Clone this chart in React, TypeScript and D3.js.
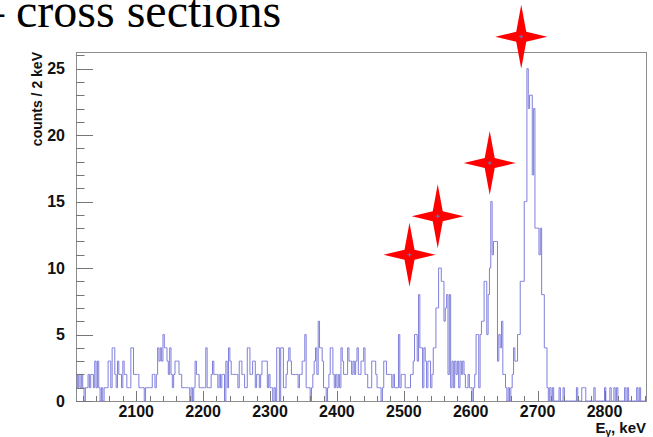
import React from 'react';
import * as d3 from 'd3';

// histogram: 2 keV bins starting at X_MIN
const X_MIN = 2010;
const X_MAX = 2862;
const BIN_WIDTH = 2;
const Y_MAX = 26.25;

// 2010 - 2258 keV
const countsLow = [
  2, 1, 2, 1, 2, 1, 0, 1, 1, 2,
  1, 2, 2, 1, 3, 1, 3, 1, 0, 1,
  0, 1, 1, 1, 3, 3, 1, 4, 4, 2,
  1, 3, 2, 2, 1, 3, 2, 2, 1, 1,
  1, 4, 4, 2, 2, 2, 2, 1, 1, 1,
  1, 0, 1, 1, 1, 1, 1, 2, 2, 1,
  2, 4, 3, 4, 3, 5, 4, 4, 3, 2,
  4, 2, 1, 2, 3, 3, 3, 2, 2, 1,
  1, 1, 1, 1, 1, 0, 1, 0, 1, 3,
  2, 2, 1, 1, 1, 1, 1, 4, 1, 1,
  1, 2, 3, 2, 2, 2, 1, 2, 1, 2,
  2, 0, 3, 1, 4, 3, 2, 2, 2, 2,
  2, 1, 3, 3, 2,
];

// 2260 - 2496 keV
const countsMid = [
  2, 1, 1, 4, 4, 2, 2, 3, 3, 1,
  2, 2, 1, 2, 3, 3, 3, 3, 1, 2,
  1, 1, 0, 1, 0, 4, 4, 0, 4, 4,
  1, 1, 2, 3, 4, 3, 2, 2, 2, 2,
  2, 1, 2, 2, 3, 3, 5, 1, 1, 1,
  0, 1, 2, 3, 4, 2, 6, 4, 4, 3,
  1, 1, 0, 1, 2, 4, 4, 2, 1, 2,
  1, 2, 1, 4, 3, 2, 2, 2, 4, 3,
  3, 2, 3, 2, 3, 4, 2, 2, 3, 3,
  4, 2, 2, 1, 1, 1, 3, 3, 3, 2,
  1, 1, 1, 0, 1, 3, 3, 2, 2, 2,
  2, 1, 2, 1, 1, 1, 5, 1, 2,
];

// 2498 - 2722 keV
const countsPeaks = [
  2, 2, 1, 1, 1, 1, 2, 2, 3, 5,
  5, 3, 8, 4, 4, 1, 4, 3, 1, 3,
  3, 1, 2, 4, 4, 7, 7, 10, 10, 9,
  9, 6, 7, 8, 2, 8, 1, 3, 1, 3,
  2, 3, 1, 3, 2, 3, 2, 1, 1, 2,
  1, 1, 0, 1, 2, 5, 5, 1, 5, 6,
  6, 9, 9, 5, 8, 10, 15, 11, 12, 12,
  12, 3, 5, 4, 6, 2, 2, 1, 0, 1,
  0, 1, 2, 4, 3, 3, 5, 5, 9, 9,
  9, 15, 15, 25, 22, 23, 23, 17, 22, 13,
  13, 13, 11, 13, 8, 8, 4, 4, 1, 0,
  1, 0, 1,
];

// 2724 - 2860 keV
const countsTail = [
  0, 0, 0, 0, 1, 0, 0, 1, 0, 0,
  0, 0, 0, 0, 0, 0, 0, 1, 0, 0,
  0, 1, 1, 1, 0, 0, 0, 0, 0, 0,
  1, 0, 0, 0, 0, 0, 0, 0, 1, 0,
  0, 0, 1, 0, 0, 1, 0, 1, 0, 0,
  0, 0, 0, 1, 0, 1, 0, 0, 0, 0,
  0, 0, 1, 0, 1, 0, 0, 0, 0,
];

const xTicksMajor = [2100, 2200, 2300, 2400, 2500, 2600, 2700, 2800];
const yTicksMajor = [0, 5, 10, 15, 20, 25];

// marked lines (energy, counts)
const starE = [2508.5, 2550.7, 2628.4, 2675.5];
const starC = [11.0, 13.9, 17.9, 27.4];

const counts = [...countsLow, ...countsMid, ...countsPeaks, ...countsTail];

export default function App() {
  const width = 653;
  const height = 437;
  const margin = { top: 52, right: 7, bottom: 36, left: 76 };

  const x = d3.scaleLinear()
    .domain([X_MIN, X_MAX])
    .range([margin.left, width - margin.right]);
  const y = d3.scaleLinear()
    .domain([0, Y_MAX])
    .range([height - margin.bottom, margin.top]);

  // step outline like ROOT's hist drawing
  const pts: [number, number][] = counts.map((c, i) => [X_MIN + i * BIN_WIDTH, c]);
  pts.push([X_MIN + counts.length * BIN_WIDTH, counts[counts.length - 1]]);
  const stepLine = d3.line<[number, number]>()
    .x(d => x(d[0]))
    .y(d => y(d[1]))
    .curve(d3.curveStepAfter);

  const xMinor = d3.range(2020, X_MAX, 20).filter(v => v % 100 !== 0);
  const yMinor = d3.range(0, Y_MAX, 1).filter(v => v % 5 !== 0);

  const y0 = y(0);
  const frameW = x(X_MAX) - x(X_MIN);
  const frameH = y(0) - y(Y_MAX);
  const yTickLen = 17;
  const xTickLen = 10;

  const star = (cx: number, cy: number) => {
    const a = 26, b = 32, w = 5;
    return `M${cx},${cy - b} L${cx + w},${cy - w} L${cx + a},${cy} L${cx + w},${cy + w} ` +
      `L${cx},${cy + b} L${cx - w},${cy + w} L${cx - a},${cy} L${cx - w},${cy - w} Z`;
  };

  const labelFont = "'Liberation Sans', Arial, Helvetica, sans-serif";

  return (
    <div style={{ position: 'fixed', left: 0, top: 0, width, height, background: '#fff' }}>
      <svg width={width} height={height} style={{ display: 'block' }}>
        <text x={-20} y={27} fontFamily="'Liberation Serif', 'Times New Roman', serif" fontSize={48} fill="#000">
          – cross sections
        </text>

        {/* frame */}
        <rect x={x(X_MIN) + 0.5} y={y(Y_MAX) + 0.5} width={frameW} height={frameH}
          fill="none" stroke="#8c8c8c" strokeWidth={1} />

        {/* histogram */}
        <path d={stepLine(pts) ?? ''} fill="none" stroke="#7f7fdc" strokeWidth={1} />

        {/* y ticks */}
        {yTicksMajor.map(v => (
          <line key={`ym${v}`} x1={x(X_MIN)} x2={x(X_MIN) + yTickLen}
            y1={Math.round(y(v)) + 0.5} y2={Math.round(y(v)) + 0.5} stroke="#777" />
        ))}
        {yMinor.map(v => (
          <line key={`yn${v}`} x1={x(X_MIN)} x2={x(X_MIN) + yTickLen / 2}
            y1={Math.round(y(v)) + 0.5} y2={Math.round(y(v)) + 0.5} stroke="#777" />
        ))}
        {yTicksMajor.map(v => (
          <text key={`yl${v}`} x={65} y={y(v)} dy="0.36em" textAnchor="end"
            fontFamily={labelFont} fontWeight="bold" fontSize={16} fill="#111">{v}</text>
        ))}

        {/* x ticks */}
        {xTicksMajor.map(v => (
          <line key={`xm${v}`} x1={Math.round(x(v)) + 0.5} x2={Math.round(x(v)) + 0.5}
            y1={y0} y2={y0 - xTickLen} stroke="#777" />
        ))}
        {xMinor.map(v => (
          <line key={`xn${v}`} x1={Math.round(x(v)) + 0.5} x2={Math.round(x(v)) + 0.5}
            y1={y0} y2={y0 - xTickLen / 2} stroke="#777" />
        ))}
        {xTicksMajor.map(v => (
          <text key={`xl${v}`} x={x(v)} y={417} textAnchor="middle"
            fontFamily={labelFont} fontWeight="bold" fontSize={16} fill="#111">{v}</text>
        ))}

        {/* axis titles */}
        <text x={x(X_MAX)} y={433} textAnchor="end" fontFamily={labelFont} fontWeight="bold"
          fontSize={15} fill="#111">
          E<tspan fontSize={10} dy={3}>γ</tspan><tspan dy={-3}>, keV</tspan>
        </text>
        <text transform={`translate(42,${y(Y_MAX)}) rotate(-90)`} textAnchor="end"
          fontFamily={labelFont} fontWeight="bold" fontSize={14} fill="#111">
          counts / 2 keV
        </text>

        {/* stars marking the lines */}
        {starE.map((e, i) => (
          <g key={`s${i}`}>
            <path d={star(x(e), y(starC[i]))} fill="#ff0000" />
            <line x1={x(e) - 2} x2={x(e) + 2} y1={y(starC[i])} y2={y(starC[i])} stroke="#4a7fd0" strokeWidth={1} />
            <line x1={x(e)} x2={x(e)} y1={y(starC[i]) - 2} y2={y(starC[i]) + 2} stroke="#4a7fd0" strokeWidth={1} />
          </g>
        ))}
      </svg>
    </div>
  );
}
